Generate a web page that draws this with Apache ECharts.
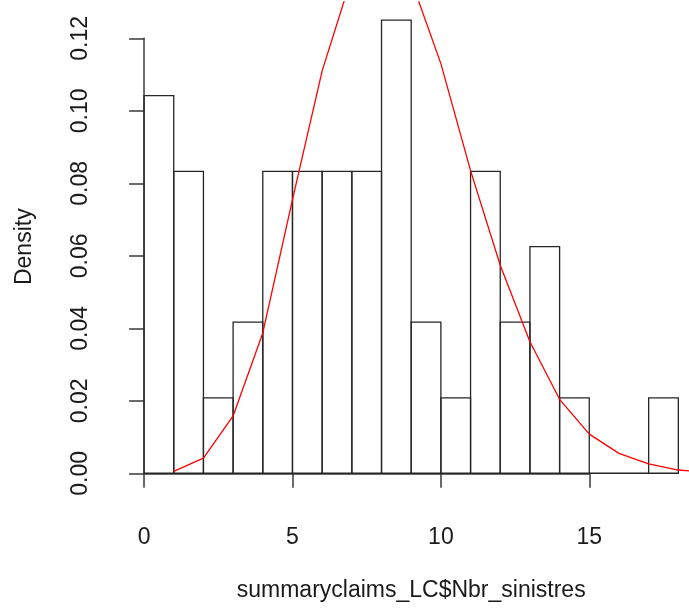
<!DOCTYPE html>
<html>
<head>
<meta charset="utf-8">
<script src="https://cdn.jsdelivr.net/npm/echarts@6/dist/echarts.min.js"></script>
<style>
html,body{margin:0;padding:0;background:#ffffff;}
#chart{width:689px;height:609px;}
</style>
</head>
<body>
<div id="chart"></div>
<script>
// Histogram bins (left edges, width 1) and densities
const binLeft = [0,1,2,3,4,5,6,7,8,9,10,11,12,13,14,15,16,17];
const binRight = [1,2,3,4,5,6,7,8,9,10,11,12,13,14,15,16,17,18];
const density = [0.1042,0.0833,0.0208,0.0417,0.0833,0.0833,0.0833,0.0833,0.125,0.0417,0.0208,0.0833,0.0417,0.0625,0.0208,0,0,0.0208];

// Red fitted curve
const curveX = [1,2,3,4,5,6,7,8,9,10,11,12,13,14,15,16,17,18,19];
const curveY = [0.0005,0.0042,0.0158,0.0387,0.0755,0.111,0.137,0.144,0.136,0.113,0.0835,0.0574,0.0363,0.0204,0.0108,0.0055,0.0026,0.0009,0.0003];

// Axis ticks
const xTickMin = 0, xTickMax = 15, xTickStep = 5;
const yTickMin = 0, yTickMax = 0.12, yTickStep = 0.02;

const xTitle = 'summaryclaims_LC$Nbr_sinistres';
const yTitle = 'Density';

const FONT = '"Liberation Sans", Arial, Helvetica, sans-serif';
const TXT = '#1a1a1a';
const AX = '#3a3a3a';

const histData = binLeft.map((l, i) => [l, binRight[i], density[i]]);
const curveData = curveX.map((x, i) => [x, curveY[i]]);

const chart = echarts.init(document.getElementById('chart'), null, {renderer: 'canvas'});

const hiddenAxisParts = {
  axisLine: {show: false}, axisTick: {show: false},
  axisLabel: {show: false}, splitLine: {show: false}
};

chart.setOption({
  animation: false,
  backgroundColor: '#ffffff',
  grid: [
    {left: 122.7, top: 2, width: 577, height: 489.4, containLabel: false, outerBoundsMode: 'none'},
    {left: 144.1, top: 38.3, width: 445.2, height: 435, containLabel: false, outerBoundsMode: 'none'}
  ],
  xAxis: [
    {
      gridIndex: 0, type: 'value', min: -0.72, max: 18.72,
      name: xTitle, nameLocation: 'middle', nameGap: 88,
      nameTextStyle: {fontFamily: FONT, fontSize: 23, color: TXT},
      ...hiddenAxisParts
    },
    {
      gridIndex: 1, type: 'value', min: xTickMin, max: xTickMax, interval: xTickStep,
      position: 'bottom', offset: 19,
      axisLine: {show: true, lineStyle: {color: AX, width: 1.5}},
      axisTick: {show: true, inside: false, length: 14.5, lineStyle: {color: AX, width: 1.5}},
      axisLabel: {show: true, margin: 34, fontFamily: FONT, fontSize: 23, color: TXT,
                  showMinLabel: true, showMaxLabel: true, hideOverlap: false},
      splitLine: {show: false}
    }
  ],
  yAxis: [
    {
      gridIndex: 0, type: 'value', min: -0.005, max: 0.13,
      name: yTitle, nameLocation: 'middle', nameGap: 87, nameRotate: 90,
      nameTextStyle: {fontFamily: FONT, fontSize: 23, color: TXT},
      ...hiddenAxisParts
    },
    {
      gridIndex: 1, type: 'value', min: yTickMin, max: yTickMax, interval: yTickStep,
      position: 'left', offset: 20.8,
      axisLine: {show: true, lineStyle: {color: AX, width: 1.5}},
      axisTick: {show: true, inside: false, length: 15, lineStyle: {color: AX, width: 1.5}},
      axisLabel: {show: true, margin: 31, rotate: 90, fontFamily: FONT, fontSize: 23, color: TXT,
                  showMinLabel: true, showMaxLabel: true, hideOverlap: false,
                  formatter: v => v.toFixed(2)},
      splitLine: {show: false}
    }
  ],
  series: [
    {
      type: 'custom', xAxisIndex: 0, yAxisIndex: 0,
      data: histData,
      encode: {x: [0, 1], y: 2},
      renderItem: function (params, api) {
        const p0 = api.coord([api.value(0), 0]);
        const p1 = api.coord([api.value(1), api.value(2)]);
        return {
          type: 'rect',
          shape: {x: p0[0], y: p1[1], width: p1[0] - p0[0], height: p0[1] - p1[1]},
          style: {fill: 'none', stroke: '#262626', lineWidth: 1.3}
        };
      },
      z: 2
    },
    {
      type: 'line', xAxisIndex: 0, yAxisIndex: 0,
      data: curveData,
      showSymbol: false, symbol: 'none', smooth: false, clip: true,
      lineStyle: {color: '#ff0000', width: 1.3},
      z: 3
    }
  ]
});
</script>
</body>
</html>
